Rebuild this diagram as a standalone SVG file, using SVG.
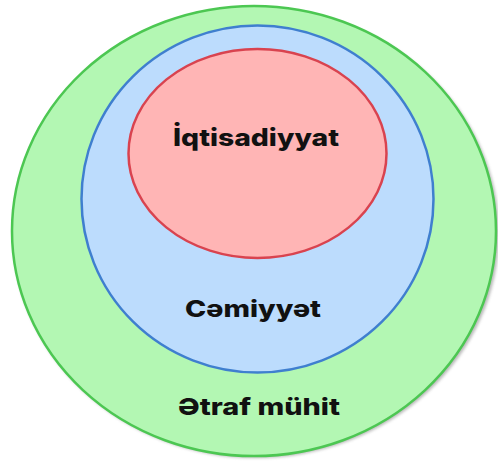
<svg xmlns="http://www.w3.org/2000/svg" width="498" height="461" viewBox="0 0 498 461">
  <defs>
    <filter id="shadow" x="-10%" y="-10%" width="120%" height="120%">
      <feGaussianBlur stdDeviation="1.5"/>
    </filter>
    <style>
      .lbl { font-family: "Inter", "Open Sans", "Liberation Sans", sans-serif; font-weight: 800; fill: #111111; text-anchor: start; }
    </style>
  </defs>
  <rect width="498" height="461" fill="#ffffff"/>
  <g id="environment">
    <ellipse cx="256" cy="233" rx="243" ry="225" fill="#8a8a8a" opacity="0.6" filter="url(#shadow)"/>
    <ellipse cx="254" cy="231" rx="242" ry="225" fill="#b3f7b3" stroke="#4cc752" stroke-width="2.5"/>
    <text class="lbl" x="178" y="415" font-size="23.5" textLength="162" lengthAdjust="spacingAndGlyphs">Ətraf mühit</text>
  </g>
  <g id="society">
    <ellipse cx="257.5" cy="199" rx="176" ry="173.5" fill="#bcdcfd" stroke="#3f7fcf" stroke-width="2.5"/>
    <text class="lbl" x="185" y="317" font-size="23" textLength="136" lengthAdjust="spacingAndGlyphs">Cəmiyyət</text>
  </g>
  <g id="economy">
    <ellipse cx="257.5" cy="153.5" rx="129" ry="104.5" fill="#ffb5b5" stroke="#d9434f" stroke-width="2.5"/>
    <text class="lbl" x="173" y="146" font-size="24" textLength="166" lengthAdjust="spacingAndGlyphs">İqtisadiyyat</text>
  </g>
  <g id="connectors"/>
</svg>
